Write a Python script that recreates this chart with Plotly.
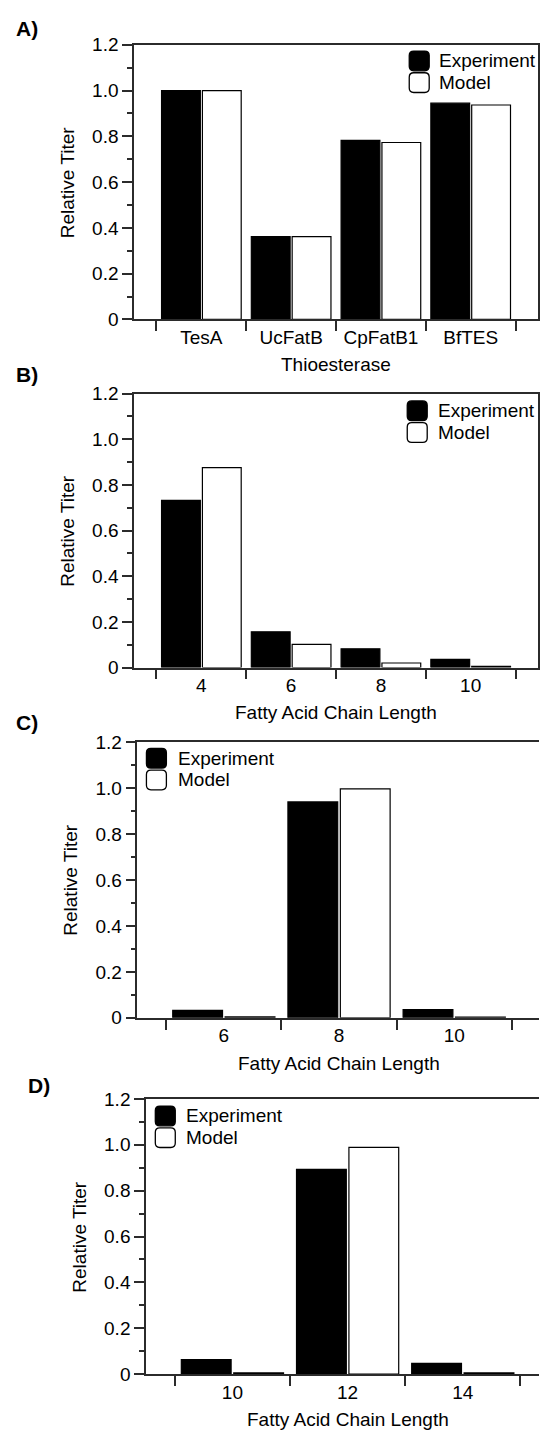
import plotly.graph_objects as go

# ---------------- data ----------------
a_categories = ["TesA", "UcFatB", "CpFatB1", "BfTES"]
a_experiment = [1.000, 0.362, 0.782, 0.945]
a_model = [1.000, 0.362, 0.773, 0.937]

b_categories = ["4", "6", "8", "10"]
b_experiment = [0.732, 0.157, 0.082, 0.036]
b_model = [0.876, 0.102, 0.020, 0.005]

c_categories = ["6", "8", "10"]
c_experiment = [0.032, 0.941, 0.036]
c_model = [0.004, 0.998, 0.003]

d_categories = ["10", "12", "14"]
d_experiment = [0.064, 0.893, 0.047]
d_model = [0.006, 0.989, 0.006]

y_tick_values = [0, 0.2, 0.4, 0.6, 0.8, 1.0, 1.2]
y_tick_labels = ["0", "0.2", "0.4", "0.6", "0.8", "1.0", "1.2"]
y_minor_values = [0.1, 0.3, 0.5, 0.7, 0.9, 1.1]

series_names = ["Experiment", "Model"]
y_title = "Relative Titer"

# ---------------- layout helpers ----------------
W, H = 540, 1443
FONT = "Liberation Sans, Arial, Helvetica, sans-serif"
LINE = "#2b2b2b"


def px(x):
    return x / W


def py(y):
    return 1 - y / H


panels = [
    dict(cats=a_categories, exp=a_experiment, mod=a_model, xtitle="Thioesterase",
         label="A)", lab=(27.5, 18.5), left=134.3, right=539, top=35.3, bottom=314,
         xr=[-0.75, 3.75], mirror_y=True, leg=(410, 41.7, 438)),
    dict(cats=b_categories, exp=b_experiment, mod=b_model, xtitle="Fatty Acid Chain Length",
         label="B)", lab=(27.5, 370), left=134.3, right=539, top=389.3, bottom=667.3,
         xr=[-0.75, 3.75], mirror_y=True, leg=(408, 396.7, 436.6)),
    dict(cats=c_categories, exp=c_experiment, mod=c_model, xtitle="Fatty Acid Chain Length",
         label="C)", lab=(27.5, 723), left=137.7, right=540, top=743.3, bottom=1022.7,
         xr=[-0.75, -0.75 + (540 - 137.7) / 115.4], mirror_y=False, leg=(146.7, 749.3, 176.7)),
    dict(cats=d_categories, exp=d_experiment, mod=d_model, xtitle="Fatty Acid Chain Length",
         label="D)", lab=(39, 1091.7), left=146.3, right=540, top=1105, bottom=1384.3,
         xr=[-0.75, -0.75 + (540 - 146.3) / 115.4], mirror_y=False, leg=(155.6, 1112.3, 184.2)),
]

fig = go.Figure()
annotations = []
shapes = []


def rounded_box(x0, y0, size, r):
    # coordinates in pixels -> paper path
    x1, y1 = x0 + size, y0 + size
    pts = [
        ("M", (x0 + r, y0)), ("L", (x1 - r, y0)), ("Q", (x1, y0), (x1, y0 + r)),
        ("L", (x1, y1 - r)), ("Q", (x1, y1), (x1 - r, y1)),
        ("L", (x0 + r, y1)), ("Q", (x0, y1), (x0, y1 - r)),
        ("L", (x0, y0 + r)), ("Q", (x0, y0), (x0 + r, y0)),
    ]
    s = ""
    for p in pts:
        cmd = p[0]
        coords = " ".join(f"{px(c[0]):.6f},{py(c[1]):.6f}" for c in p[1:])
        s += f"{cmd}{coords} "
    return s + "Z"


for i, p in enumerate(panels):
    n = i + 1
    xa = "x" if n == 1 else f"x{n}"
    ya = "y" if n == 1 else f"y{n}"
    fig.add_trace(go.Bar(x=p["cats"], y=p["exp"], name=series_names[0], xaxis=xa, yaxis=ya,
                         marker=dict(color="black", line=dict(color="black", width=1.2)),
                         showlegend=False))
    fig.add_trace(go.Bar(x=p["cats"], y=p["mod"], name=series_names[1], xaxis=xa, yaxis=ya,
                         marker=dict(color="white", line=dict(color="black", width=1.2)),
                         showlegend=False))

    xkey = "xaxis" if n == 1 else f"xaxis{n}"
    ykey = "yaxis" if n == 1 else f"yaxis{n}"
    fig.layout[xkey] = dict(
        domain=[px(p["left"]), px(p["right"])], anchor=ya, type="category",
        range=p["xr"], tickson="boundaries", ticks="outside", ticklen=10, tickwidth=1.5,
        tickcolor=LINE, showline=True, linecolor=LINE, linewidth=1.5, mirror=True,
        showgrid=False, zeroline=False, fixedrange=True,
        tickfont=dict(family=FONT, size=19, color="black"),
    )
    fig.layout[ykey] = dict(
        domain=[py(p["bottom"]), py(p["top"])], anchor=xa, range=[0, 1.2],
        tickvals=y_tick_values, ticktext=y_tick_labels, ticks="outside", ticklen=10,
        tickwidth=1.5, tickcolor=LINE, showline=True, linecolor=LINE, linewidth=1.5,
        mirror=p["mirror_y"], showgrid=False, zeroline=False, fixedrange=True,
        tickfont=dict(family=FONT, size=19, color="black"),
        minor=dict(tickvals=y_minor_values, ticks="outside", ticklen=5, tickwidth=1.5,
                   tickcolor=LINE, showgrid=False),
    )

    # panel label
    annotations.append(dict(text=f"<b>{p['label']}</b>", x=px(p["lab"][0]), y=py(p["lab"][1]),
                            xref="paper", yref="paper", xanchor="center", yanchor="middle",
                            showarrow=False, font=dict(family=FONT, size=21, color="black")))
    # y title
    annotations.append(dict(text=y_title, x=px(p["left"] - 67), y=py((p["top"] + p["bottom"]) / 2),
                            xref="paper", yref="paper", xanchor="center", yanchor="middle",
                            textangle=-90, showarrow=False,
                            font=dict(family=FONT, size=19, color="black")))
    # x title
    annotations.append(dict(text=p["xtitle"], x=(len(p["cats"]) - 1) / 2, y=py(p["bottom"] + 46),
                            xref=xa, yref="paper", xanchor="center", yanchor="middle",
                            showarrow=False, font=dict(family=FONT, size=19, color="black")))
    # legend
    lx, ly, tx = p["leg"]
    for k, (nm, fill) in enumerate(zip(series_names, ["black", "white"])):
        top = ly + 22 * k
        shapes.append(dict(type="path", path=rounded_box(lx, top, 20, 4.5), xref="paper",
                           yref="paper", fillcolor=fill, line=dict(color="black", width=1.3)))
        annotations.append(dict(text=nm, x=px(tx), y=py(top + 10), xref="paper", yref="paper",
                                xanchor="left", yanchor="middle", showarrow=False,
                                font=dict(family=FONT, size=19, color="black")))

fig.update_layout(
    width=W, height=H, margin=dict(l=0, r=0, t=0, b=0),
    paper_bgcolor="white", plot_bgcolor="white",
    barmode="group", bargap=0.09, bargroupgap=0.05,
    annotations=annotations, shapes=shapes, showlegend=False,
)

fig.write_html("out.html")
